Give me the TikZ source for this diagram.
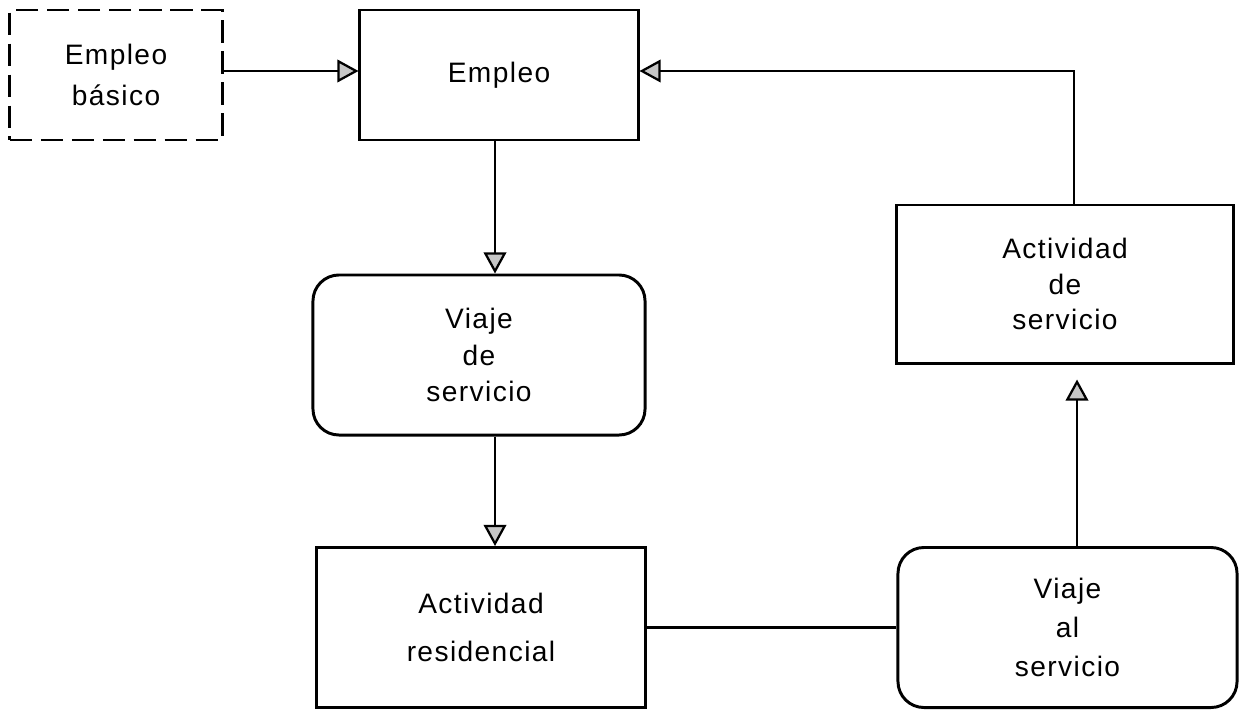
\documentclass[tikz,border=0pt]{standalone}
\usepackage{fontspec}
\setmainfont{Liberation Sans}[LetterSpace=5]
\usetikzlibrary{arrows.meta}

\begin{document}
\begin{tikzpicture}[x=0.025cm, y=-0.025cm,
  every node/.style={inner sep=0pt, align=center, font=\fontsize{20}{25}\selectfont},
  stepbox/.style={draw, line width=2.1pt},
  roundbox/.style={draw, line width=2.1pt, rounded corners=0.65cm},
  dashbox/.style={draw, line width=2.1pt, dash pattern=on 16pt off 6pt},
  link/.style={line width=2.1pt},
  arr/.style={line width=2.1pt, -{Triangle[length=15pt, width=16pt, fill=gray!45, line width=1.6pt]}}
]
\useasboundingbox (0,0) rectangle (1240,710);

% boxes
\node[dashbox, minimum width=5.3cm, minimum height=3.25cm] (basic) at (116,75)
  {Empleo\\[4pt]básico};
\node[stepbox, minimum width=6.95cm, minimum height=3.25cm] (emp) at (499,75)
  {Empleo};
\node[roundbox, minimum width=8.3cm, minimum height=4.0cm] (viajeserv) at (479,355)
  {Viaje\\[1pt]de\\[1pt]servicio};
\node[stepbox, minimum width=8.2cm, minimum height=4.0cm] (actres) at (481,627.5)
  {Actividad\\[9pt]residencial};
\node[roundbox, minimum width=8.475cm, minimum height=4.0cm] (viajeal) at (1067.5,627.5)
  {Viaje\\[3pt]al\\[3pt]servicio};
\node[stepbox, minimum width=8.4cm, minimum height=3.95cm] (actserv) at (1065,284)
  {Actividad\\de\\servicio};

% routing guides
\coordinate (row) at (0,71);
\coordinate (col) at (495,0);
\coordinate (colb) at (1077,0);
\coordinate (colc) at (1074,0);

% connectors
\draw[arr] (basic.east |- row) -- (emp.west |- row);
\draw[arr] (emp.south -| col) -- (viajeserv.north -| col);
\draw[arr] (viajeserv.south -| col) -- (actres.north -| col);
\draw[link] (actres.east) -- (viajeal.west);
\draw[arr, shorten >=0.375cm] (viajeal.north -| colb) -- (actserv.south -| colb);
\draw[arr] (actserv.north -| colc) |- (emp.east |- row);
\end{tikzpicture}
\end{document}
